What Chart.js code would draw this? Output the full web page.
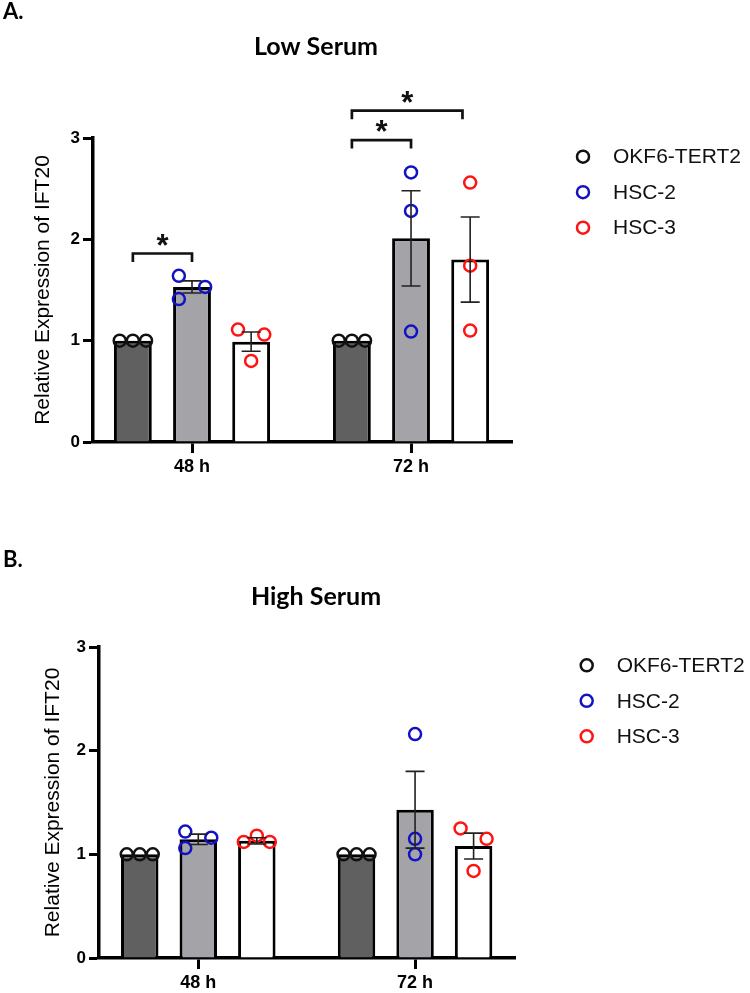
<!DOCTYPE html>
<html>
<head>
<meta charset="utf-8">
<title>IFT20 expression</title>
<script src="https://cdn.jsdelivr.net/npm/chart.js@4.4.1/dist/chart.umd.min.js"></script>
<style>
  html, body { margin: 0; padding: 0; background: #fff; }
  .panel { position: relative; width: 750px; }
  #panelA { height: 490px; }
  #panelB { height: 503px; }
</style>
</head>
<body>
<div class="panel" id="panelA"><canvas id="chartA"></canvas></div>
<div class="panel" id="panelB"><canvas id="chartB"></canvas></div>
<script>
// categories and series names
const timepoints = ['48 h', '72 h'];
const cellLines = ['OKF6-TERT2', 'HSC-2', 'HSC-3'];
const yTicks = [0, 1, 2, 3];

// A. Low serum - bar heights (mean), error (SEM) and replicate dots, per cell line, per timepoint
const lowMeanOKF6 = [1.00, 1.00];
const lowMeanHSC2 = [1.53, 2.01];
const lowMeanHSC3 = [0.99, 1.80];
const lowSemOKF6 = [0, 0];
const lowSemHSC2 = [0.06, 0.47];
const lowSemHSC3 = [0.095, 0.42];
const lowRepsOKF6 = [[1.00, 1.00, 1.00], [1.00, 1.00, 1.00]];
const lowRepsHSC2 = [[1.64, 1.41, 1.53], [2.66, 2.28, 1.09]];
const lowRepsHSC3 = [[1.11, 1.06, 0.80], [2.56, 1.74, 1.10]];
// which side of the bar each dot sits on (-1 left, 0 middle, 1 right)
const lowSideOKF6 = [[-1, 0, 1], [-1, 0, 1]];
const lowSideHSC2 = [[-1, -1, 1], [0, 0, 0]];
const lowSideHSC3 = [[-1, 1, 0], [0, 0, 0]];
// significance brackets: timepoint, from bar, to bar, height, mark
const lowBracketTime = [0, 1, 1];
const lowBracketFrom = [0, 0, 0];
const lowBracketTo = [1, 1, 1.87];
const lowBracketY = [1.86, 2.98, 3.27];
const lowBracketMark = ['*', '*', '*'];

// B. High serum
const highMeanOKF6 = [1.00, 1.00];
const highMeanHSC2 = [1.145, 1.43];
const highMeanHSC3 = [1.13, 1.08];
const highSemOKF6 = [0, 0];
const highSemHSC2 = [0.05, 0.37];
const highSemHSC3 = [0.03, 0.125];
const highRepsOKF6 = [[1.00, 1.00, 1.00], [1.00, 1.00, 1.00]];
const highRepsHSC2 = [[1.22, 1.06, 1.16], [2.16, 1.15, 1.00]];
const highRepsHSC3 = [[1.12, 1.18, 1.12], [1.25, 1.15, 0.84]];
const highSideOKF6 = [[-1, 0, 1], [-1, 0, 1]];
const highSideHSC2 = [[-1, -1, 1], [0, 0, 0]];
const highSideHSC3 = [[-1, 0, 1], [-1, 1, 0]];

// styling
const barFills = ['#606060', '#a3a3a8', '#ffffff'];
const dotColors = ['#111111', '#1212c4', '#ff1414'];
const CAT_PCT = 0.81;   // share of each timepoint taken by the 3 bars
const BAR_PCT = 0.64;   // bar width inside its slot
const DOT_STEP = 0.06;  // horizontal spread of replicate dots (x units)
const ARIAL = 'Arial, "Liberation Sans", sans-serif';
const LATO = 'Lato, "Open Sans", sans-serif';

// x position (in axis units) of bar j at timepoint i
function barX(i, j) {
    return i + (j - 1) * CAT_PCT / 3;
}

function makePanel(canvasId, panel) {
    const barDatasets = cellLines.map((name, j) => ({
        type: 'bar',
        label: name,
        data: panel.means[j].map((v, i) => ({ x: i, y: v })),
        backgroundColor: barFills[j],
        borderColor: '#000',
        borderWidth: 3,
        borderSkipped: 'start',
        categoryPercentage: CAT_PCT,
        barPercentage: BAR_PCT,
        order: 2
    }));

    const dotDatasets = cellLines.map((name, j) => ({
        type: 'scatter',
        label: name,
        data: panel.reps[j].flatMap((reps, i) =>
            reps.map((v, k) => ({ x: barX(i, j) + panel.sides[j][i][k] * DOT_STEP, y: v }))),
        pointStyle: 'circle',
        pointRadius: 6,
        pointBorderWidth: 2.5,
        borderColor: dotColors[j],
        backgroundColor: 'rgba(0,0,0,0)',
        order: 1
    }));

    // SEM whiskers on top of the bars
    const errorBars = {
        id: 'errorBars',
        afterDatasetsDraw(chart) {
            const ctx = chart.ctx;
            const y = chart.scales.y;
            barDatasets.forEach((ds, j) => {
                const meta = chart.getDatasetMeta(j);
                meta.data.forEach((bar, i) => {
                    const sem = panel.sems[j][i];
                    if (!sem) return;
                    const mean = panel.means[j][i];
                    const top = y.getPixelForValue(mean + sem);
                    const bot = y.getPixelForValue(mean - sem);
                    ctx.save();
                    ctx.strokeStyle = '#222';
                    ctx.lineWidth = 1.6;
                    ctx.beginPath();
                    ctx.moveTo(bar.x, top); ctx.lineTo(bar.x, bot);
                    ctx.moveTo(bar.x - 9.5, top); ctx.lineTo(bar.x + 9.5, top);
                    ctx.moveTo(bar.x - 9.5, bot); ctx.lineTo(bar.x + 9.5, bot);
                    ctx.stroke();
                    ctx.restore();
                });
            });
        }
    };

    // significance brackets with stars
    const brackets = {
        id: 'brackets',
        afterDraw(chart) {
            const ctx = chart.ctx;
            const xs = chart.scales.x, ys = chart.scales.y;
            ctx.save();
            ctx.strokeStyle = '#111';
            ctx.fillStyle = '#111';
            ctx.lineWidth = 2.7;
            panel.bracketY.forEach((val, b) => {
                const t = panel.bracketTime[b];
                const x1 = xs.getPixelForValue(barX(t, panel.bracketFrom[b]));
                const x2 = xs.getPixelForValue(barX(t, panel.bracketTo[b]));
                const yy = ys.getPixelForValue(val);
                ctx.beginPath();
                ctx.moveTo(x1, yy + 8.5);
                ctx.lineTo(x1, yy);
                ctx.lineTo(x2, yy);
                ctx.lineTo(x2, yy + 8.5);
                ctx.stroke();
                ctx.font = 'bold 31px ' + ARIAL;
                ctx.textAlign = 'center';
                ctx.textBaseline = 'alphabetic';
                ctx.fillText(panel.bracketMark[b], (x1 + x2) / 2, yy + 2);
            });
            ctx.restore();
        }
    };

    // panel letter, title and the dot legend on the right
    const decorations = {
        id: 'decorations',
        afterDraw(chart) {
            const ctx = chart.ctx;
            const a = chart.chartArea;
            ctx.save();
            ctx.fillStyle = '#000';
            ctx.textBaseline = 'middle';
            ctx.textAlign = 'left';
            ctx.font = 'bold 22px ' + LATO;
            ctx.fillText(panel.letter, 3, panel.letterY);
            ctx.textAlign = 'center';
            ctx.font = 'bold 25px ' + LATO;
            ctx.fillText(panel.title, panel.titleX, panel.titleY);

            dotDatasets.forEach((ds, j) => {
                const cx = a.right + panel.legendDx;
                const cy = a.top + panel.legendDy + j * 35.5;
                ctx.beginPath();
                ctx.arc(cx, cy, 6, 0, 2 * Math.PI);
                ctx.lineWidth = 2.5;
                ctx.strokeStyle = ds.borderColor;
                ctx.stroke();
                ctx.fillStyle = '#111';
                ctx.textAlign = 'left';
                ctx.font = '21px ' + ARIAL;
                ctx.fillText(ds.label, cx + 30, cy + 1);
            });
            ctx.restore();
        }
    };

    return new Chart(document.getElementById(canvasId), {
        type: 'bar',
        data: { datasets: barDatasets.concat(dotDatasets) },
        options: {
            responsive: true,
            maintainAspectRatio: false,
            animation: false,
            layout: { padding: { top: panel.padTop, right: panel.padRight, bottom: 0, left: 0 } },
            plugins: {
                legend: { display: false },
                tooltip: { enabled: false }
            },
            scales: {
                x: {
                    type: 'linear',
                    min: panel.xMin,
                    max: panel.xMax,
                    offset: false,
                    afterBuildTicks: s => { s.ticks = timepoints.map((t, i) => ({ value: i })); },
                    afterFit: s => { s.height = panel.xHeight; s.paddingLeft = 0; s.paddingRight = 0; },
                    ticks: {
                        callback: v => timepoints[v],
                        color: '#000',
                        padding: 3,
                        font: { family: ARIAL, size: 18, weight: 'bold' }
                    },
                    grid: { drawOnChartArea: false, offset: false, tickLength: 11, tickWidth: 3, tickColor: '#000' },
                    border: { color: '#000', width: 3.5 }
                },
                y: {
                    min: yTicks[0],
                    max: yTicks[yTicks.length - 1],
                    afterBuildTicks: s => { s.ticks = yTicks.map(v => ({ value: v })); },
                    afterFit: s => { s.width = panel.yWidth; s.paddingTop = 0; s.paddingBottom = 0; },
                    ticks: {
                        color: '#000',
                        padding: 3,
                        font: { family: ARIAL, size: 17, weight: 'bold' }
                    },
                    grid: { drawOnChartArea: false, tickLength: 10, tickWidth: 3, tickColor: '#000' },
                    border: { color: '#000', width: 3.5 },
                    title: {
                        display: true,
                        text: 'Relative Expression of IFT20',
                        color: '#000',
                        padding: { top: panel.yTitlePad, bottom: 0 },
                        font: { family: ARIAL, size: 21, weight: 'normal' }
                    }
                }
            }
        },
        plugins: [errorBars, brackets, decorations]
    });
}

makePanel('chartA', {
    letter: 'A.', letterY: 12, title: 'Low Serum', titleX: 316, titleY: 47,
    means: [lowMeanOKF6, lowMeanHSC2, lowMeanHSC3],
    sems: [lowSemOKF6, lowSemHSC2, lowSemHSC3],
    reps: [lowRepsOKF6, lowRepsHSC2, lowRepsHSC3],
    sides: [lowSideOKF6, lowSideHSC2, lowSideHSC3],
    bracketTime: lowBracketTime, bracketFrom: lowBracketFrom, bracketTo: lowBracketTo,
    bracketY: lowBracketY, bracketMark: lowBracketMark,
    padTop: 138, padRight: 238, yWidth: 93, xHeight: 48, yTitlePad: 31,
    xMin: -0.452, xMax: 1.461, legendDx: 71, legendDy: 18.7
});

makePanel('chartB', {
    letter: 'B.', letterY: 70, title: 'High Serum', titleX: 316, titleY: 107.3,
    means: [highMeanOKF6, highMeanHSC2, highMeanHSC3],
    sems: [highSemOKF6, highSemHSC2, highSemHSC3],
    reps: [highRepsOKF6, highRepsHSC2, highRepsHSC3],
    sides: [highSideOKF6, highSideHSC2, highSideHSC3],
    bracketTime: [], bracketFrom: [], bracketTo: [], bracketY: [], bracketMark: [],
    padTop: 157, padRight: 235, yWidth: 99, xHeight: 35, yTitlePad: 40.4,
    xMin: -0.458, xMax: 1.461, legendDx: 71.7, legendDy: 18.3
});
</script>
</body>
</html>
